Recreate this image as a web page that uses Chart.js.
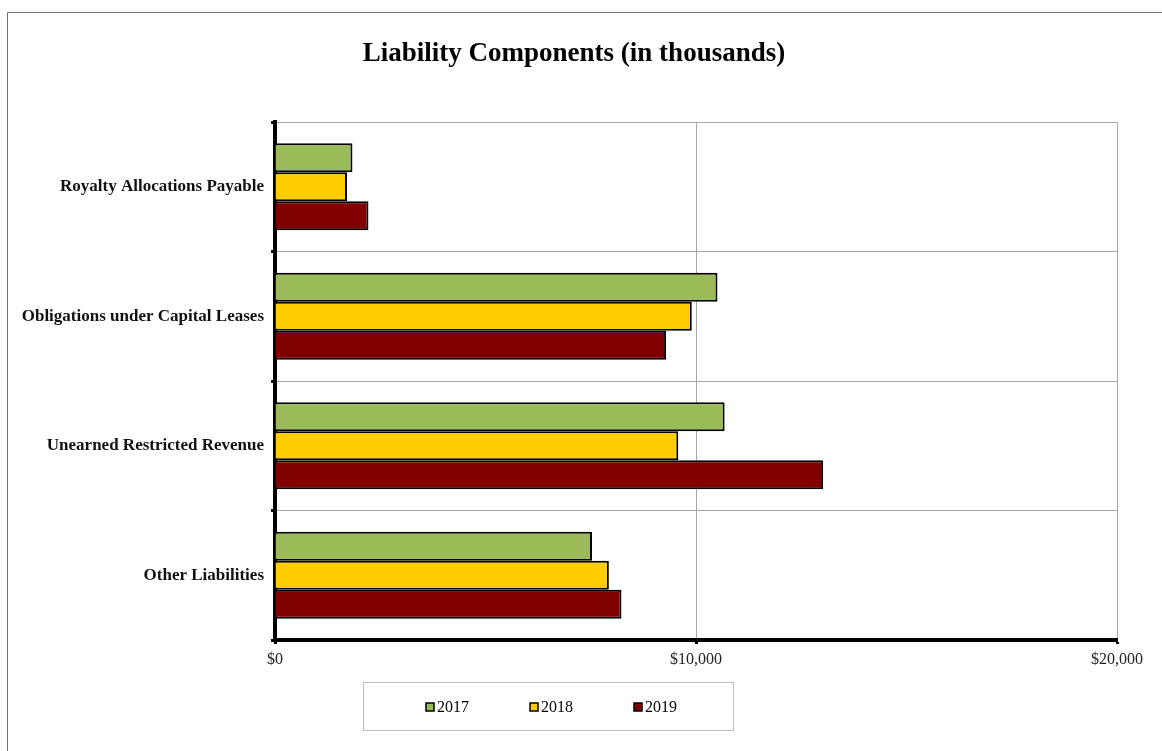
<!DOCTYPE html>
<html>
<head>
<meta charset="utf-8">
<script src="https://cdn.jsdelivr.net/npm/chart.js@4.4.1/dist/chart.umd.min.js"></script>
<style>
  html, body { margin: 0; padding: 0; background: #fff; }
  #wrap { width: 1162px; height: 751px; }
</style>
</head>
<body>
<div id="wrap"><canvas id="myChart" width="1162" height="751"></canvas></div>
<script>
// data (in thousands of dollars)
var categories = ['Royalty Allocations Payable', 'Obligations under Capital Leases', 'Unearned Restricted Revenue', 'Other Liabilities'];
var years = ['2017', '2018', '2019'];
var values2017 = [1840, 10510, 10680, 7530];
var values2018 = [1710, 9900, 9580, 7930];
var values2019 = [2220, 9290, 13020, 8230];
var xTicks = [0, 10000, 20000];

var serif = '"Liberation Serif", "Times New Roman", serif';

// frame, title and legend box drawn on the canvas
var decor = {
  id: 'decor',
  beforeDraw: function(chart) {
    var ctx = chart.ctx;
    ctx.save();
    ctx.fillStyle = '#fff';
    ctx.fillRect(0, 0, chart.width, chart.height);
    ctx.strokeStyle = '#707070';
    ctx.lineWidth = 1;
    ctx.beginPath();
    ctx.moveTo(7.5, chart.height);
    ctx.lineTo(7.5, 12.5);
    ctx.lineTo(chart.width, 12.5);
    ctx.stroke();
    ctx.restore();
  },
  afterDraw: function(chart) {
    var ctx = chart.ctx;
    ctx.save();
    // title
    ctx.fillStyle = '#000';
    ctx.font = 'bold 27px ' + serif;
    ctx.textAlign = 'center';
    ctx.textBaseline = 'middle';
    ctx.fillText('Liability Components (in thousands)', 574, 54);

    // legend
    ctx.strokeStyle = '#bdbdbd';
    ctx.lineWidth = 1;
    ctx.strokeRect(363.5, 682.5, 370, 48);
    ctx.font = '16px ' + serif;
    ctx.textAlign = 'left';
    chart.data.datasets.forEach(function(ds, i) {
      var x = 426 + i * 104;
      var y = 703;
      ctx.fillStyle = ds.backgroundColor;
      ctx.fillRect(x, y, 8, 8);
      ctx.strokeStyle = '#000';
      ctx.lineWidth = 1.5;
      ctx.strokeRect(x, y, 8, 8);
      ctx.fillStyle = '#000';
      ctx.fillText(ds.label, x + 11, y + 4.5);
    });
    ctx.restore();
  }
};

var ctx = document.getElementById('myChart').getContext('2d');
var chart = new Chart(ctx, {
  type: 'bar',
  data: {
    labels: categories,
    datasets: [
      { label: years[0], data: values2017, backgroundColor: '#9BBB59' },
      { label: years[1], data: values2018, backgroundColor: '#FFCC00' },
      { label: years[2], data: values2019, backgroundColor: '#800000' }
    ]
  },
  options: {
    indexAxis: 'y',
    responsive: false,
    animation: false,
    devicePixelRatio: 1,
    layout: { padding: { top: 122, right: 45, bottom: 0, left: 0 } },
    datasets: {
      bar: {
        borderColor: '#000',
        borderWidth: 2,
        categoryPercentage: 0.67,
        barPercentage: 1.0
      }
    },
    plugins: {
      legend: { display: false },
      title: { display: false },
      tooltip: { enabled: false }
    },
    scales: {
      x: {
        min: xTicks[0],
        max: xTicks[xTicks.length - 1],
        afterFit: function(scale) { scale.height = 111; },
        afterBuildTicks: function(scale) {
          scale.ticks = xTicks.map(function(v) { return { value: v }; });
        },
        ticks: {
          color: '#222',
          padding: 6,
          maxRotation: 0,
          font: { family: serif, size: 16 },
          callback: function(v) { return '$' + Number(v).toLocaleString('en-US'); }
        },
        grid: { color: '#a6a6a6', lineWidth: 1, tickColor: '#000', tickLength: 4, tickWidth: 3 },
        border: { color: '#000', width: 4 }
      },
      y: {
        afterFit: function(scale) { scale.width = 275; },
        ticks: {
          color: '#111',
          padding: 7,
          font: { family: serif, size: 17, weight: 'bold' }
        },
        grid: { offset: true, color: '#a6a6a6', lineWidth: 1, tickColor: '#000', tickLength: 4, tickWidth: 3 },
        border: { color: '#000', width: 4 }
      }
    }
  },
  plugins: [decor]
});
</script>
</body>
</html>
